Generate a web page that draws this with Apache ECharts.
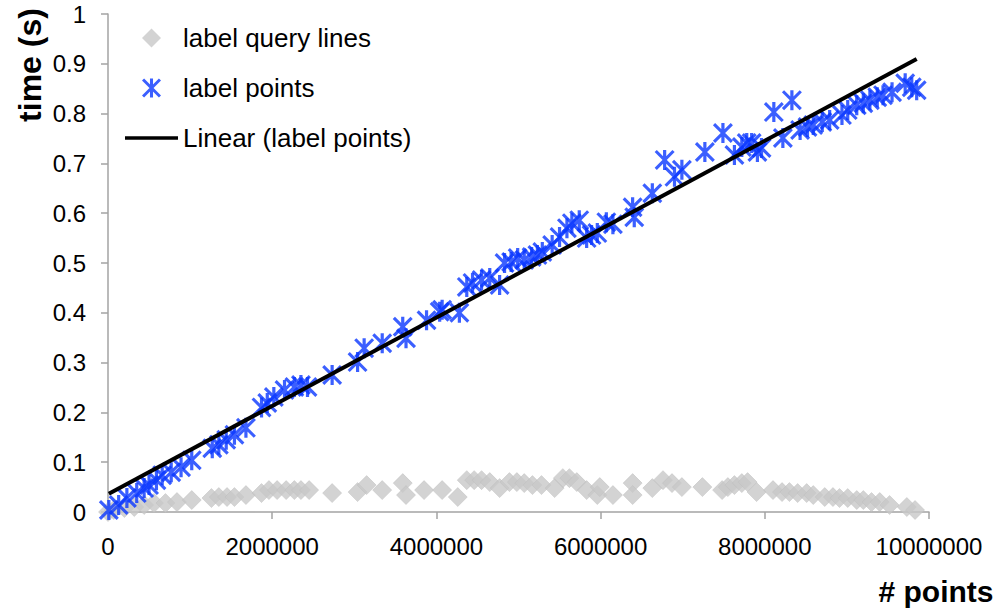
<!DOCTYPE html>
<html>
<head>
<meta charset="utf-8">
<script src="https://cdn.jsdelivr.net/npm/echarts@6/dist/echarts.min.js"></script>
<style>
  html, body { margin: 0; padding: 0; background: #fff; }
  #chart { width: 1000px; height: 611px; }
</style>
</head>
<body>
<div id="chart"></div>
<script>
// Timing of label placement versus number of input points.

// label points: number of points (x) and time in seconds (y)
const pointsX = [
  10000, 130000, 230000, 350000, 440000, 500000, 590000, 660000, 770000, 890000,
  1020000, 1270000, 1350000, 1440000, 1540000, 1680000, 1870000, 1940000, 2020000, 2150000,
  2270000, 2350000, 2430000, 2730000, 3040000, 3120000, 3340000, 3590000, 3630000, 3880000,
  4040000, 4070000, 4280000, 4370000, 4440000, 4550000, 4650000, 4770000, 4830000, 4910000,
  4990000, 5070000, 5160000, 5230000, 5290000, 5410000, 5500000, 5590000, 5650000, 5740000,
  5830000, 5890000, 5960000, 6070000, 6150000, 6390000, 6410000, 6630000, 6780000, 6900000,
  6990000, 7270000, 7490000, 7630000, 7720000, 7780000, 7840000, 7910000, 7960000, 8110000,
  8220000, 8330000, 8430000, 8520000, 8590000, 8700000, 8790000, 8940000, 9010000, 9120000,
  9200000, 9280000, 9370000, 9440000, 9550000, 9710000, 9790000, 9850000
];
const pointsTime = [
  0.004, 0.014, 0.028, 0.038, 0.048, 0.054, 0.064, 0.074, 0.080, 0.090,
  0.104, 0.128, 0.135, 0.145, 0.155, 0.169, 0.210, 0.219, 0.231, 0.245,
  0.251, 0.255, 0.251, 0.275, 0.301, 0.329, 0.339, 0.372, 0.349, 0.385,
  0.402, 0.406, 0.400, 0.452, 0.460, 0.466, 0.470, 0.456, 0.500, 0.502,
  0.510, 0.506, 0.512, 0.516, 0.522, 0.536, 0.552, 0.570, 0.580, 0.586,
  0.550, 0.556, 0.560, 0.582, 0.578, 0.612, 0.592, 0.640, 0.707, 0.673,
  0.687, 0.723, 0.761, 0.717, 0.733, 0.741, 0.741, 0.723, 0.731, 0.803,
  0.751, 0.827, 0.767, 0.773, 0.777, 0.783, 0.787, 0.797, 0.807, 0.817,
  0.821, 0.827, 0.833, 0.837, 0.843, 0.861, 0.853, 0.847
];

// label query lines: number of points (x) and time in seconds (y)
const linesX = [
  0, 70000, 200000, 320000, 440000, 560000, 700000, 840000, 1020000, 1260000,
  1350000, 1450000, 1540000, 1680000, 1870000, 1960000, 2060000, 2170000, 2270000, 2350000,
  2450000, 2730000, 3040000, 3150000, 3340000, 3590000, 3630000, 3850000, 4070000, 4260000,
  4370000, 4460000, 4550000, 4650000, 4770000, 4890000, 4980000, 5070000, 5170000, 5280000,
  5440000, 5540000, 5620000, 5710000, 5830000, 5960000, 5990000, 6150000, 6390000, 6390000,
  6630000, 6760000, 6870000, 6990000, 7240000, 7480000, 7550000, 7630000, 7720000, 7790000,
  7900000, 8100000, 8210000, 8300000, 8400000, 8510000, 8590000, 8730000, 8830000, 8910000,
  9010000, 9120000, 9200000, 9300000, 9400000, 9520000, 9730000, 9830000
];
const linesTime = [
  0.000, 0.004, 0.008, 0.010, 0.014, 0.018, 0.018, 0.020, 0.024, 0.028,
  0.030, 0.030, 0.030, 0.034, 0.038, 0.044, 0.044, 0.044, 0.044, 0.044,
  0.044, 0.038, 0.040, 0.054, 0.044, 0.058, 0.034, 0.044, 0.044, 0.030,
  0.064, 0.064, 0.064, 0.060, 0.048, 0.060, 0.060, 0.058, 0.054, 0.054,
  0.048, 0.068, 0.068, 0.060, 0.044, 0.034, 0.050, 0.034, 0.058, 0.034,
  0.048, 0.064, 0.058, 0.050, 0.050, 0.044, 0.050, 0.054, 0.058, 0.060,
  0.040, 0.044, 0.040, 0.040, 0.038, 0.038, 0.034, 0.030, 0.030, 0.028,
  0.028, 0.024, 0.024, 0.020, 0.020, 0.014, 0.010, 0.004
];

// axis ticks
const xTickStep = 2000000;
const xMax = 10000000;
const yTickStep = 0.1;
const yMax = 1;

const seriesNames = ['label query lines', 'label points', 'Linear (label points)'];

// least-squares trend line over the label points
function linearFit(xs, ys) {
  const n = xs.length;
  let sx = 0, sy = 0, sxx = 0, sxy = 0;
  for (let i = 0; i < n; i++) {
    sx += xs[i]; sy += ys[i]; sxx += xs[i] * xs[i]; sxy += xs[i] * ys[i];
  }
  const slope = (n * sxy - sx * sy) / (n * sxx - sx * sx);
  const intercept = (sy - slope * sx) / n;
  return { slope, intercept };
}
const fit = linearFit(pointsX, pointsTime);
const xLo = Math.min.apply(null, pointsX);
const xHi = Math.max.apply(null, pointsX);
const trend = [
  [xLo, fit.intercept + fit.slope * xLo],
  [xHi, fit.intercept + fit.slope * xHi]
];

// marker shapes
const asterisk = 'path://M42,0L58,0L58,100L42,100Z' +
  'M11,0L100,89L89,100L0,11Z' +
  'M89,0L100,11L11,100L0,89Z';
const diamond = 'path://M50,0L100,50L50,100L0,50Z';
const lineSwatch = 'path://M0,0L100,0L100,7L0,7Z';

const FONT = 'Liberation Sans, Arial, sans-serif';
const BLUE = '#0a37ff';
const GREY = '#c8c8c8';
const AXIS = '#a3a3a3';

const zip = (xs, ys) => xs.map((x, i) => [x, ys[i]]);

const chart = echarts.init(document.getElementById('chart'), null, { renderer: 'svg' });
chart.setOption({
  backgroundColor: '#ffffff',
  animation: false,
  textStyle: { fontFamily: FONT, color: '#000' },
  grid: { left: 108, right: 71, top: 14, bottom: 99, containLabel: false },
  legend: {
    orient: 'vertical',
    left: 125,
    top: 25,
    padding: 0,
    itemWidth: 53,
    itemHeight: 19,
    itemGap: 24,
    symbolKeepAspect: true,
    selectedMode: false,
    textStyle: { fontFamily: FONT, fontSize: 26, color: '#000' },
    data: [
      { name: seriesNames[0], icon: diamond, itemStyle: { color: GREY, borderWidth: 0 } },
      { name: seriesNames[1], icon: asterisk, itemStyle: { color: BLUE } },
      { name: seriesNames[2], icon: lineSwatch, itemStyle: { color: '#000' } }
    ]
  },
  xAxis: {
    type: 'value',
    min: 0,
    max: xMax,
    interval: xTickStep,
    splitLine: { show: false },
    axisLine: { show: true, lineStyle: { color: AXIS, width: 1.5 } },
    axisTick: { show: true, length: 7, lineStyle: { color: AXIS, width: 1.5 } },
    axisLabel: {
      fontFamily: FONT, fontSize: 24, color: '#000', margin: 22,
      formatter: v => String(v)
    }
  },
  yAxis: {
    type: 'value',
    min: 0,
    max: yMax,
    interval: yTickStep,
    splitLine: { show: false },
    axisLine: { show: true, lineStyle: { color: AXIS, width: 1.5 } },
    axisTick: { show: true, length: 7, lineStyle: { color: AXIS, width: 1.5 } },
    axisLabel: {
      fontFamily: FONT, fontSize: 24, color: '#000', margin: 22,
      formatter: v => String(Math.round(v * 10) / 10)
    }
  },
  graphic: [
    {
      type: 'text',
      x: 30, y: 65,
      rotation: Math.PI / 2,
      style: {
        text: 'time (s)',
        font: 'bold 32px ' + FONT,
        fill: '#000',
        align: 'center',
        verticalAlign: 'middle'
      }
    },
    {
      type: 'text',
      x: 936, y: 591,
      style: {
        text: '# points',
        font: 'bold 30px ' + FONT,
        fill: '#000',
        align: 'center',
        verticalAlign: 'middle'
      }
    }
  ],
  series: [
    {
      name: seriesNames[0],
      type: 'scatter',
      symbol: 'diamond',
      symbolSize: 19,
      itemStyle: { color: GREY, borderColor: '#bdbdbd', borderWidth: 0.6 },
      data: zip(linesX, linesTime),
      z: 2
    },
    {
      name: seriesNames[1],
      type: 'scatter',
      symbol: asterisk,
      symbolSize: 20,
      itemStyle: { color: BLUE },
      data: zip(pointsX, pointsTime),
      z: 3
    },
    {
      name: seriesNames[2],
      type: 'line',
      symbol: 'none',
      lineStyle: { color: '#000', width: 4 },
      itemStyle: { color: '#000' },
      data: trend,
      z: 4
    }
  ]
});
</script>
</body>
</html>
